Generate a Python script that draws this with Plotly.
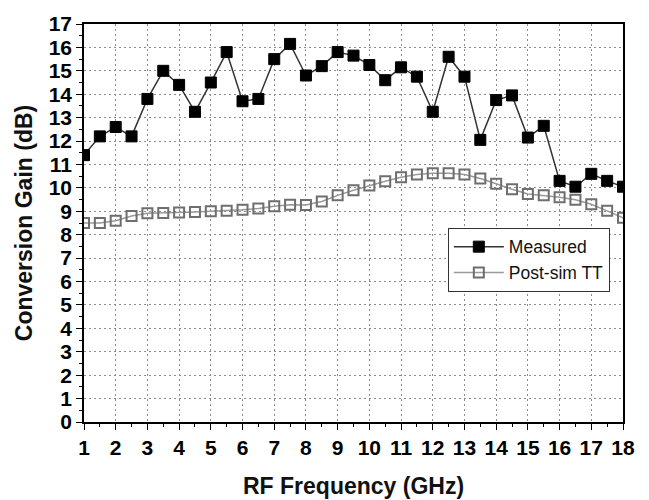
import plotly.graph_objects as go

# RF frequency sweep, 1 to 18 GHz in 0.5 GHz steps
freq_ghz = [1.0, 1.5, 2.0, 2.5, 3.0, 3.5, 4.0, 4.5, 5.0, 5.5, 6.0, 6.5,
            7.0, 7.5, 8.0, 8.5, 9.0, 9.5, 10.0, 10.5, 11.0, 11.5, 12.0, 12.5,
            13.0, 13.5, 14.0, 14.5, 15.0, 15.5, 16.0, 16.5, 17.0, 17.5, 18.0]

# Measured conversion gain (dB)
measured_db = [11.4, 12.2, 12.6, 12.2, 13.8, 15.0, 14.4, 13.25, 14.5, 15.8, 13.7, 13.8,
               15.5, 16.15, 14.8, 15.2, 15.8, 15.65, 15.25, 14.6, 15.15, 14.75, 13.25, 15.6,
               14.75, 12.05, 13.75, 13.95, 12.15, 12.65, 10.3, 10.05, 10.6, 10.3, 10.05]

# Post-layout simulation, typical corner (dB)
postsim_tt_db = [8.5, 8.5, 8.6, 8.8, 8.92, 8.93, 8.95, 8.97, 9.0, 9.02, 9.07, 9.12,
                 9.22, 9.28, 9.27, 9.42, 9.68, 9.9, 10.1, 10.28, 10.45, 10.57, 10.63, 10.63,
                 10.57, 10.4, 10.18, 9.94, 9.74, 9.68, 9.6, 9.49, 9.3, 9.02, 8.72]

x_ticks = list(range(1, 19))
y_ticks = list(range(0, 18))

fig = go.Figure()

fig.add_trace(go.Scatter(
    x=freq_ghz, y=measured_db, name="Measured", mode="lines+markers",
    line=dict(color="#333333", width=1.5),
    marker=dict(symbol="square", size=11, color="#000000",
                line=dict(color="#000000", width=1)),
))

fig.add_trace(go.Scatter(
    x=freq_ghz, y=postsim_tt_db, name="Post-sim TT", mode="lines+markers",
    line=dict(color="#9a9a9a", width=1.5),
    marker=dict(symbol="square-open", size=10, color="#6e6e6e",
                line=dict(color="#6e6e6e", width=2)),
))

tick_font = dict(family="Liberation Sans, Arial, sans-serif", size=21, color="#000000")
title_font = dict(family="Liberation Sans, Arial, sans-serif", size=23, color="#111111")

common_axis = dict(
    showline=True, linecolor="#000000", linewidth=1.5, mirror=True,
    ticks="outside", ticklen=6, tickwidth=1.2, tickcolor="#000000",
    showgrid=True, gridcolor="#8c8c8c", gridwidth=1, griddash="1.5px,3.5px",
    zeroline=False, tickfont=tick_font,
    minor=dict(ticks="outside", ticklen=3, tickwidth=1, tickcolor="#000000",
               dtick=0.5, showgrid=False),
)

fig.update_xaxes(
    range=[1, 18], tickmode="array", tickvals=x_ticks,
    ticktext=[f"<b>{v}</b>" for v in x_ticks],
    automargin=False,
    **common_axis,
)
fig.update_yaxes(
    range=[0, 17], tickmode="array", tickvals=y_ticks,
    ticktext=[f"<b>{v}</b>" for v in y_ticks],
    title=dict(text="<b>Conversion Gain (dB)</b>", font=title_font, standoff=10),
    **common_axis,
)

# x-axis title placed a little further below the tick labels
fig.add_annotation(
    text="<b>RF Frequency (GHz)</b>", font=title_font,
    xref="paper", yref="paper", x=0.5, y=-0.161,
    xanchor="center", yanchor="middle", showarrow=False,
)

fig.update_layout(
    width=649, height=500,
    margin=dict(l=84, r=26, t=18, b=78),
    paper_bgcolor="#ffffff", plot_bgcolor="#ffffff",
    showlegend=True,
    legend=dict(
        x=0.675, y=0.488, xanchor="left", yanchor="top",
        bgcolor="#ffffff", bordercolor="#333333", borderwidth=1,
        font=dict(family="Liberation Sans, Arial, sans-serif", size=17.5, color="#111111"),
        itemwidth=50, tracegroupgap=0,
    ),
)

fig.write_html("out.html")
